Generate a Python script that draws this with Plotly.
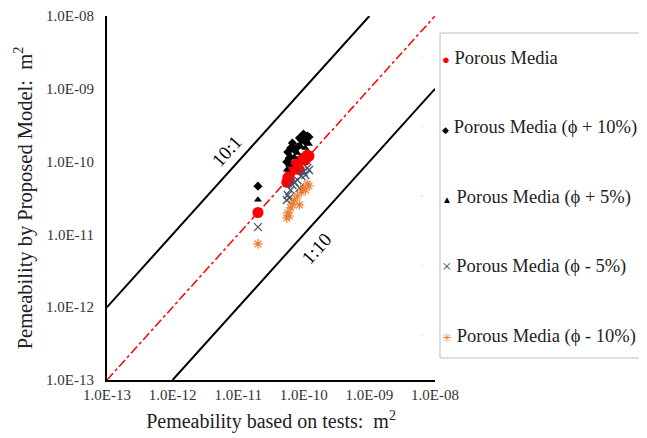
import plotly.graph_objects as go

# Test permeability (x), m^2
x_test = [2.0e-11, 5.5e-11, 5.7e-11, 6.0e-11, 6.3e-11, 6.7e-11, 7.2e-11,
          8.0e-11, 8.6e-11, 9.2e-11, 9.9e-11, 1.06e-10, 1.13e-10, 1.2e-10]

# Predicted permeability series, m^2
porous = [2.0e-11, 5.2e-11, 6.0e-11, 5.6e-11, 7.2e-11, 8.2e-11, 9.0e-11,
          9.9e-11, 7.7e-11, 1.05e-10, 1.12e-10, 1.05e-10, 1.23e-10, 1.19e-10]
phi_p10 = [4.6e-11, 9.9e-11, 1.35e-10, 1.12e-10, 1.54e-10, 1.80e-10, 1.44e-10,
           1.59e-10, 2.11e-10, 1.98e-10, 2.39e-10, 1.86e-10, 2.25e-10, 2.18e-10]
phi_p5 = [3.0e-11, 7.7e-11, 1.05e-10, 9.0e-11, 1.19e-10, 1.44e-10, 1.16e-10,
          1.31e-10, 1.69e-10, 1.59e-10, 1.98e-10, 1.54e-10, 1.86e-10, 1.75e-10]
phi_m5 = [1.26e-11, 2.97e-11, 3.48e-11, 3.16e-11, 4.07e-11, 4.77e-11, 5.25e-11,
          5.59e-11, 4.34e-11, 6.34e-11, 7.2e-11, 6.55e-11, 8.17e-11, 7.67e-11]
phi_m10 = [7.4e-12, 1.68e-11, 1.97e-11, 1.79e-11, 2.31e-11, 2.62e-11, 2.97e-11,
           3.37e-11, 2.54e-11, 3.82e-11, 4.34e-11, 4.07e-11, 4.92e-11, 4.62e-11]

series_names = ["Porous Media", "Porous Media (\u03d5 + 10%)", "Porous Media (\u03d5 + 5%)",
                "Porous Media (\u03d5 - 5%)", "Porous Media (\u03d5 - 10%)"]

# Reference lines
line_1to1_x = [1e-13, 1e-8]
line_1to1_y = [1e-13, 1e-8]
line_10to1_x = [1e-13, 1e-9]
line_10to1_y = [1e-12, 1e-8]
line_1to10_x = [1e-12, 1e-8]
line_1to10_y = [1e-13, 1e-9]

tick_vals = [1e-13, 1e-12, 1e-11, 1e-10, 1e-9, 1e-8]
tick_text = ["1.0E-13", "1.0E-12", "1.0E-11", "1.0E-10", "1.0E-09", "1.0E-08"]

FONT = "Liberation Serif, Times New Roman, serif"
OFF = 8                       # page body margin in the browser
W, H = 647 - OFF, 438 - OFF
L, R, T = 107 - OFF, 4, 16 - OFF
PH = 364
B = H - T - PH
PW = W - L - R
X_END = (435 - OFF - L) / PW


def px(page_x):
    return (page_x - OFF - L) / PW


def py(page_y):
    return (380 - page_y) / PH


fig = go.Figure()

fig.add_trace(go.Scatter(x=line_10to1_x, y=line_10to1_y, mode="lines",
                         line=dict(color="black", width=2), showlegend=False, hoverinfo="skip"))
fig.add_trace(go.Scatter(x=line_1to10_x, y=line_1to10_y, mode="lines",
                         line=dict(color="black", width=2), showlegend=False, hoverinfo="skip"))
fig.add_trace(go.Scatter(x=line_1to1_x, y=line_1to1_y, mode="lines",
                         line=dict(color="#FF0000", width=1.5, dash="dashdot"),
                         showlegend=False, hoverinfo="skip"))

markers = [
    dict(symbol="circle", color="#FF0000", size=11),
    dict(symbol="diamond", color="black", size=7),
    dict(symbol="triangle-up", color="black", size=7),
    dict(symbol="x-thin-open", color="#44546A", size=8, line=dict(color="#44546A", width=1.2)),
    dict(symbol="asterisk-open", color="#ED7D31", size=8, line=dict(color="#ED7D31", width=1.2)),
]
values = [porous, phi_p10, phi_p5, phi_m5, phi_m10]
for name, ys, mk in zip(series_names, values, markers):
    fig.add_trace(go.Scatter(x=x_test, y=ys, mode="markers", name=name, marker=mk,
                             showlegend=False))

# legend entries: glyph drawn as text next to the label (as in the original)
glyphs = [("\u25cf", "#FF0000", 13), ("\u25c6", "black", 9), ("\u25b2", "black", 10),
          ("\u00d7", "#44546A", 17), ("\u2733", "#ED7D31", 12)]
for i, (name, (g, c, s)) in enumerate(zip(series_names, glyphs)):
    fig.add_trace(go.Scatter(
        x=[None], y=[None], mode="markers", legendgroup=f"g{i}",
        marker=dict(size=1, opacity=0),
        name=f"<span style='font-size:{s}px;color:{c}'>{g}</span> {name}"))

fig.add_annotation(x=-11.165, y=-9.854, text="10:1", showarrow=False, textangle=-48,
                   font=dict(family=FONT, size=19, color="black"))
fig.add_annotation(x=-9.804, y=-11.20, text="1:10", showarrow=False, textangle=-48,
                   font=dict(family=FONT, size=19, color="black"))

# legend frame
fig.add_shape(type="rect", xref="paper", yref="paper",
              x0=px(440), x1=px(645), y0=py(358), y1=py(33),
              line=dict(color="#BFBFBF", width=1), fillcolor="rgba(0,0,0,0)")

fig.update_layout(
    template="none",
    width=W, height=H,
    margin=dict(l=L, r=R, t=T, b=B, autoexpand=False),
    paper_bgcolor="white", plot_bgcolor="white",
    font=dict(family=FONT, size=15, color="#222"),
    legend=dict(x=px(402), y=py(38), xanchor="left", yanchor="top",
                borderwidth=0, bgcolor="rgba(0,0,0,0)",
                font=dict(family=FONT, size=18.5, color="#222"),
                tracegroupgap=42.5, itemwidth=30),
    xaxis=dict(type="log", range=[-13, -8], domain=[0, X_END], automargin=False,
               tickvals=tick_vals, ticktext=tick_text,
               showgrid=False, zeroline=False, showline=True, linecolor="black", linewidth=2,
               ticks="", tickfont=dict(family=FONT, size=15, color="#333"),
               title=dict(text="Pemeability based on tests:  m<sup>2</sup>",
                          font=dict(family=FONT, size=20, color="#222"), standoff=12)),
    yaxis=dict(type="log", range=[-13, -8], automargin=False,
               tickvals=tick_vals, ticktext=tick_text, ticklabelstandoff=8,
               showgrid=False, zeroline=False, showline=True, linecolor="black", linewidth=2,
               ticks="", tickfont=dict(family=FONT, size=15, color="#333"),
               title=dict(text="Pemeability by Proposed Model:  m<sup>2</sup>",
                          font=dict(family=FONT, size=20.5, color="#222"), standoff=8)),
)

fig.write_html("out.html")
